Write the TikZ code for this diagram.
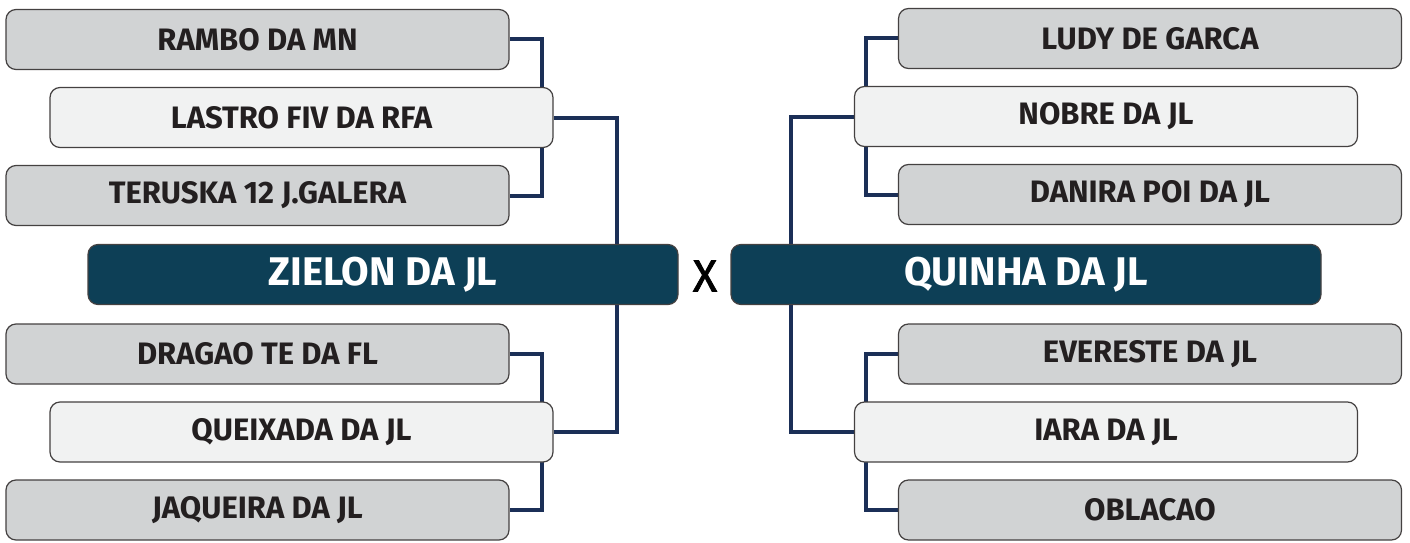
\documentclass[tikz,border=0pt]{standalone}
\usepackage{fontspec}
\setmainfont{Fira Sans}
\usepackage{tikz}
\usetikzlibrary{positioning, backgrounds, calc}

\definecolor{boxgray}{HTML}{D1D3D4}
\definecolor{boxlight}{HTML}{F1F2F2}
\definecolor{finalteal}{HTML}{0D3F56}
\definecolor{linenavy}{HTML}{1B2F57}
\definecolor{textdark}{HTML}{231F20}

\tikzset{
    entry/.style={rectangle, rounded corners=10pt, draw=textdark!85, line width=1.2pt,
        minimum width=503pt, minimum height=60pt, text=textdark,
        font=\fontsize{31}{31}\selectfont\bfseries},
    outer/.style={entry, fill=boxgray},
    inner/.style={entry, fill=boxlight},
    final/.style={entry, fill=finalteal, minimum width=590pt, text=white,
        font=\fontsize{40}{40}\selectfont\bfseries},
    bracket/.style={draw=linenavy, line width=4pt}
}

\begin{document}
\begin{tikzpicture}[x=1pt, y=-1pt, node distance=78pt]
    \useasboundingbox (0,0) rectangle (1410,543);

    % Nodes left
    \node (rambo) [outer] at (257.5,39.5) {RAMBO DA MN};
    \node (lastro) [inner, below of=rambo, xshift=44pt] {LASTRO FIV DA RFA};
    \node (teruska) [outer, below of=lastro, xshift=-44pt] {TERUSKA 12 J.GALERA};
    \node (zielon) [final] at (383,274.5) {ZIELON DA JL};
    \node (dragao) [outer] at (257.5,354) {DRAGAO TE DA FL};
    \node (queixada) [inner, below of=dragao, xshift=44pt] {QUEIXADA DA JL};
    \node (jaqueira) [outer, below of=queixada, xshift=-44pt] {JAQUEIRA DA JL};

    % Nodes right
    \node (ludy) [outer] at (1150,38.5) {LUDY DE GARCA};
    \node (nobre) [inner, below of=ludy, xshift=-44pt] {NOBRE DA JL};
    \node (danira) [outer, below of=nobre, xshift=44pt] {DANIRA POI DA JL};
    \node (quinha) [final] at (1026,274.5) {QUINHA DA JL};
    \node (evereste) [outer] at (1150,354) {EVERESTE DA JL};
    \node (iara) [inner, below of=evereste, xshift=-44pt] {IARA DA JL};
    \node (oblacao) [outer, below of=iara, xshift=44pt] {OBLACAO};

    \node (versus) [text=black, font=\fontsize{45}{45}\selectfont\addfontfeature{FakeBold=1.5}] at (705,276) {X};

    % Lines
    \begin{scope}[on background layer]
        \draw[bracket] (rambo.east) -- ++(32,0) |- (teruska.east);
        \draw[bracket] (dragao.east) -- ++(32,0) |- (jaqueira.east);
        \draw[bracket] (lastro.east) -- ++(63,0) |- (queixada.east);
        \draw[bracket] (ludy.west) -- ++(-32,0) |- (danira.west);
        \draw[bracket] (evereste.west) -- ++(-32,0) |- (oblacao.west);
        \draw[bracket] (nobre.west) -- ++(-63,0) |- (iara.west);
    \end{scope}
\end{tikzpicture}
\end{document}
